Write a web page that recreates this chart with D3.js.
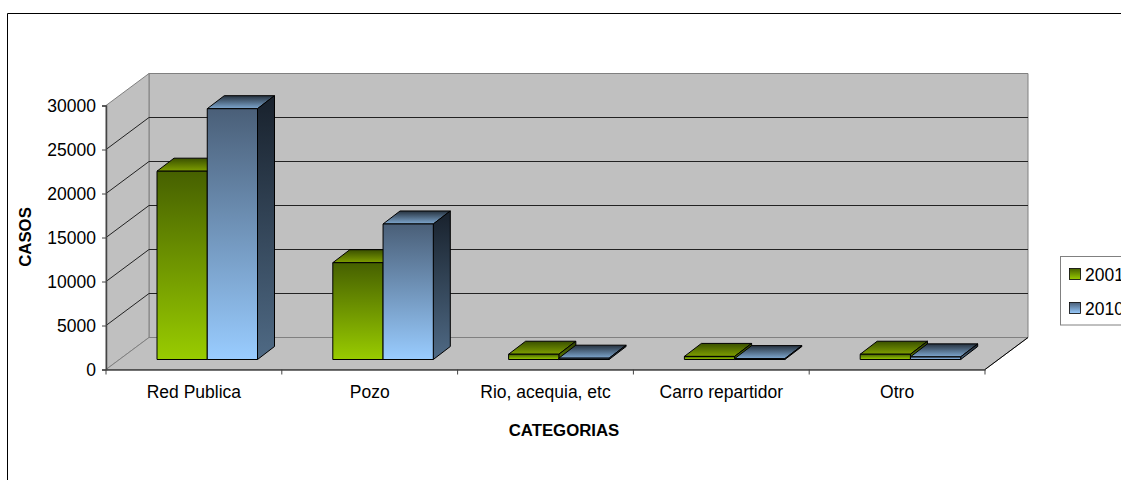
<!DOCTYPE html>
<html><head><meta charset="utf-8">
<script src="https://cdn.jsdelivr.net/npm/d3@7"></script>
<style>html,body{margin:0;padding:0;background:#fff;overflow:hidden}svg{display:block}text{font-family:"Liberation Sans",Arial,sans-serif;fill:#000}</style>
</head><body><div id="c"></div>
<script>
const categories = ["Red Publica","Pozo","Rio, acequia, etc","Carro repartidor","Otro"];
const seriesNames = ["2001","2010"];
const values2001 = [21400,11000,600,350,600];
const values2010 = [28500,15400,150,100,300];
const yTicks = [0,5000,10000,15000,20000,25000,30000];
const xTitle = "CATEGORIAS", yTitle = "CASOS";

const W=1121,H=480;
const x0=106,x1=985,yB=369.5,yT=105.5;
const depthX=43,depthY=-32;       // wall depth
const barDX=17,barDY=-13;         // bar depth
const barOffY=-10;                // bar front offset from the floor's front edge
const fs=17.5;
const x=d3.scaleBand().domain(categories).range([x0,x1]);
const y=d3.scaleLinear().domain([0,30000]).range([yB,yT]);
const inner=d3.scaleBand().domain(seriesNames).range([51,151.5]);
const svg=d3.select("#c").append("svg").attr("width",W).attr("height",H);
const defs=svg.append("defs");
function grad(id,top,bot){const g=defs.append("linearGradient").attr("id",id).attr("x1",0).attr("y1",0).attr("x2",0).attr("y2",1);
 g.append("stop").attr("offset","0").attr("stop-color",top);g.append("stop").attr("offset","1").attr("stop-color",bot);}
grad("g-front","#466000","#99cc00");grad("g-top","#3a5000","#7f9f00");
grad("b-front","#4a5f78","#99ccff");grad("b-side","#18212c","#4f6a85");grad("b-top","#26323f","#7fa8d0");
grad("g-side","#2c3c00","#5c7a00");

// frame
svg.append("path").attr("d",`M7.5,${H}V13.5H${W}`).attr("fill","none").attr("stroke","#000").attr("stroke-width",1);

// walls
const poly=p=>"M"+p.map(a=>a.join(",")).join("L")+"Z";
svg.append("path").attr("d",poly([[x0+depthX,yT+depthY],[x1+depthX,yT+depthY],[x1+depthX,yB+depthY],[x0+depthX,yB+depthY]])).attr("fill","#c0c0c0").attr("stroke","#808080");
svg.append("path").attr("d",poly([[x0,yT],[x0+depthX,yT+depthY],[x0+depthX,yB+depthY],[x0,yB]])).attr("fill","#c0c0c0").attr("stroke","#808080");
svg.append("path").attr("d",poly([[x0,yB],[x1,yB],[x1+depthX,yB+depthY],[x0+depthX,yB+depthY]])).attr("fill","#c0c0c0").attr("stroke","#808080");

// gridlines
svg.append("g").selectAll("path").data(yTicks.slice(1,-1)).join("path")
 .attr("d",d=>`M${x0},${y(d)}L${x0+depthX},${y(d)+depthY}H${x1+depthX}`)
 .attr("fill","none").attr("stroke","#222").attr("stroke-width",1);
svg.append("path").attr("d",`M${x1},${yB}L${x1+depthX},${yB+depthY}`).attr("stroke","#000").attr("fill","none");

// bars
const rows=[];
categories.forEach((c,i)=>{seriesNames.forEach((s,j)=>rows.push({c,s,v:(j?values2010:values2001)[i],g:j?"b":"g"}));});
const bars=svg.append("g").attr("stroke","#000").attr("stroke-width",1).attr("stroke-linejoin","round");
rows.forEach(r=>{
  const l=x(r.c)+inner(r.s), rr=l+inner.bandwidth();
  const b=yB+barOffY, t=y(r.v)+barOffY;
  const gr=bars.append("g");
  gr.append("path").attr("d",poly([[l,t],[rr,t],[rr+barDX,t+barDY],[l+barDX,t+barDY]])).attr("fill",`url(#${r.g}-top)`);
  gr.append("path").attr("d",poly([[rr,t],[rr+barDX,t+barDY],[rr+barDX,b+barDY],[rr,b]])).attr("fill",`url(#${r.g}-side)`);
  gr.append("path").attr("d",poly([[l,t],[rr,t],[rr,b],[l,b]])).attr("fill",`url(#${r.g}-front)`);
});

// axes
const yAxis=d3.axisLeft(y).tickValues(yTicks).tickSize(4).tickPadding(6).tickFormat(d3.format("d"));
const ga=svg.append("g").attr("transform",`translate(${x0},0)`).call(yAxis);
const xAxis=d3.axisBottom(x).tickSize(0).tickPadding(16);
const gx=svg.append("g").attr("transform",`translate(0,${yB})`).call(xAxis);
gx.selectAll(".tick").append("line").attr("x1",x.bandwidth()/2).attr("x2",x.bandwidth()/2).attr("y2",5).attr("stroke","#000");
[ga,gx].forEach(g=>{g.select(".domain").attr("stroke","#444").attr("stroke-width",1.5);g.selectAll("text").attr("font-size",fs).style("font-family",'"Liberation Sans"');g.selectAll(".tick line").attr("stroke","#444");});
svg.append("line").attr("x1",x0).attr("x2",x0).attr("y1",yB).attr("y2",yB+5).attr("stroke","#444");

// titles
svg.append("text").attr("x",564).attr("y",436).attr("text-anchor","middle").attr("font-size",fs-.7).attr("font-weight","bold").text(xTitle);
svg.append("text").attr("transform","translate(30.5,237) rotate(-90)").attr("text-anchor","middle").attr("font-size",fs-.7).attr("font-weight","bold").text(yTitle);

// legend
const lg=svg.append("g");
lg.append("rect").attr("x",1060.5).attr("y",256.5).attr("width",80).attr("height",68.5).attr("fill","#fff").attr("stroke","#808080");
seriesNames.forEach((s,i)=>{
  const yy=274+i*34;
  lg.append("rect").attr("x",1069.5).attr("y",yy-5.5).attr("width",11).attr("height",11).attr("fill",`url(#${i?"b":"g"}-front)`).attr("stroke","#000").attr("stroke-width",.8);
  lg.append("text").attr("x",1085).attr("y",yy+6.5).attr("font-size",fs).text(s);
});
</script></body></html>
